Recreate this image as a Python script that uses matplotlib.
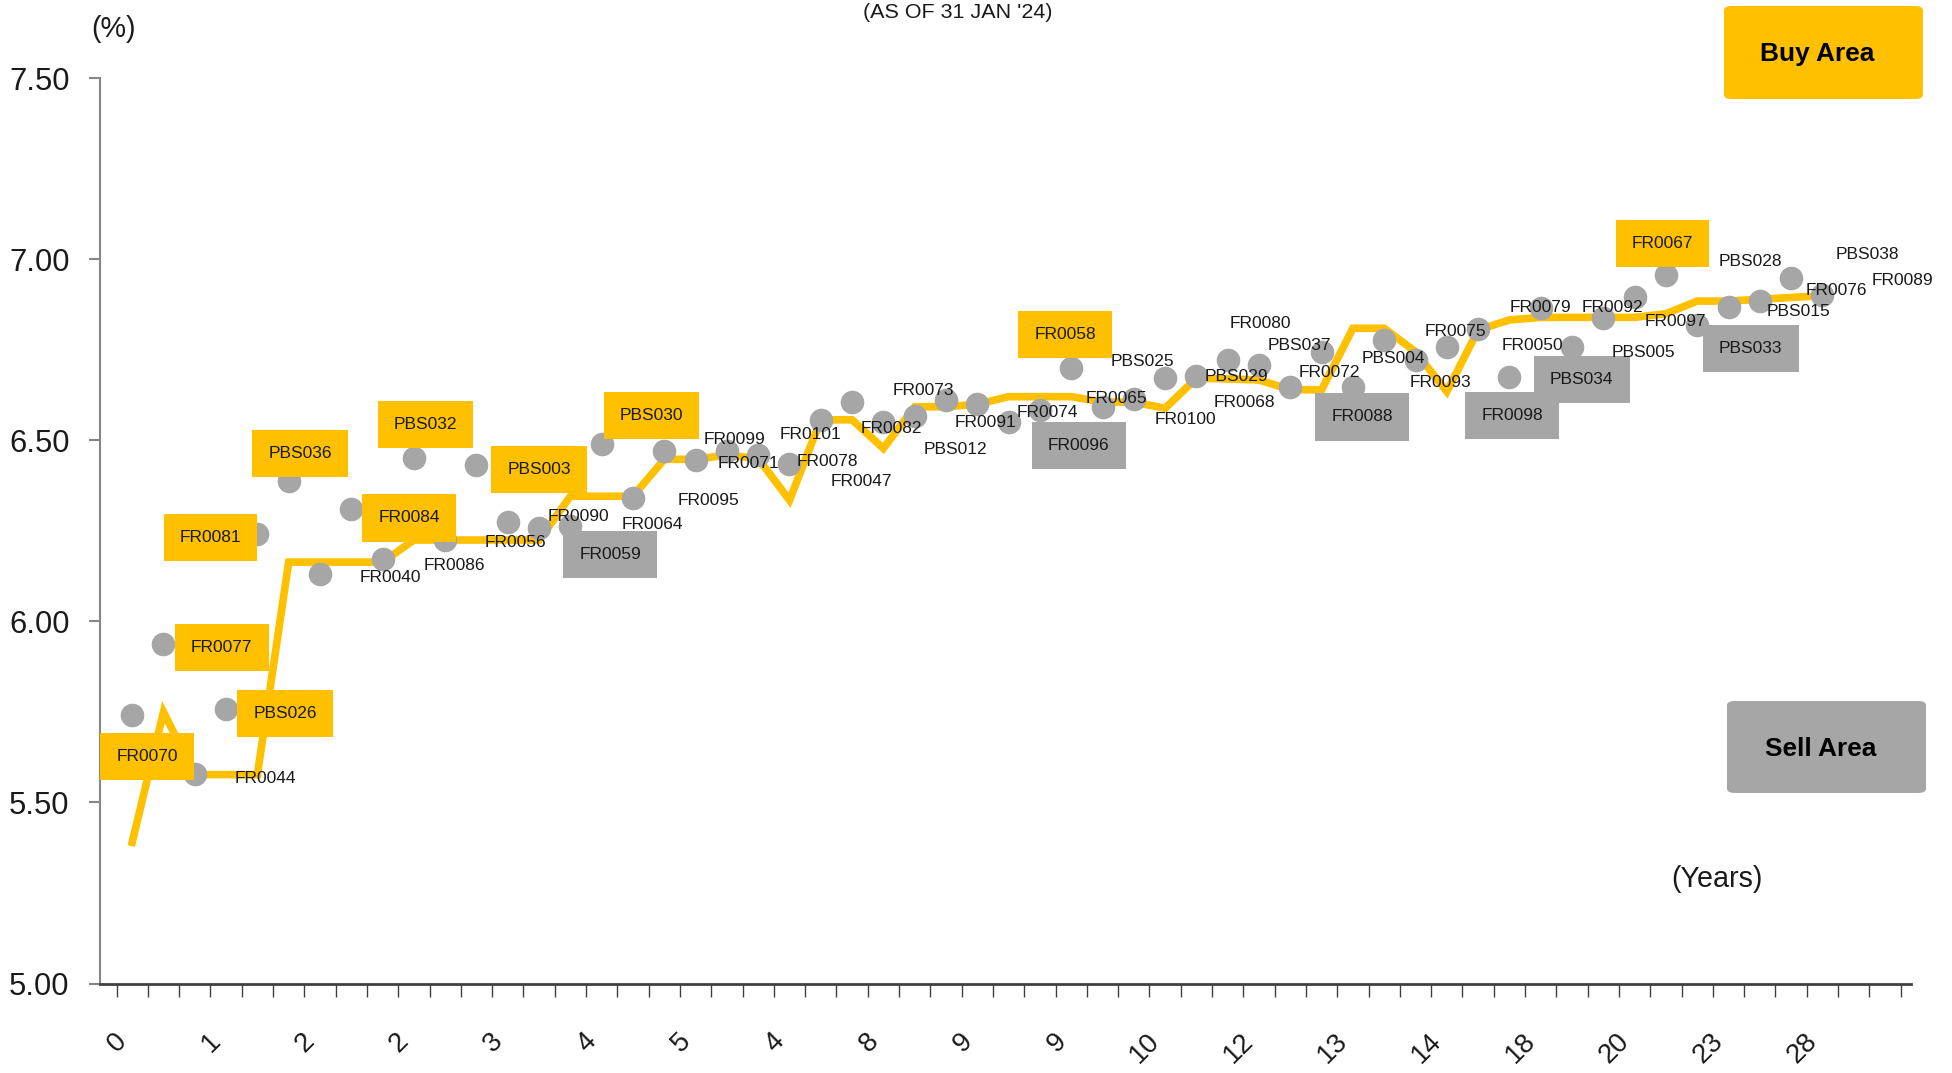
import numpy as np
import matplotlib
matplotlib.use('Agg')
import matplotlib.pyplot as plt
from matplotlib import font_manager
from matplotlib.patches import FancyBboxPatch

# narrow face if present, otherwise Arial-metric sans at a reduced size
_installed = {f.name for f in font_manager.fontManager.ttflist}
if 'Liberation Sans Narrow' in _installed:
    FAMILY, SCALE = 'Liberation Sans Narrow', 1.0
else:
    FAMILY, SCALE = 'Liberation Sans', 0.86
plt.rcParams['font.family'] = [FAMILY, 'DejaVu Sans']

# bond series, one per category (x axis), ordered by tenor
bonds = ['FR0070', 'FR0077', 'FR0044', 'PBS026', 'FR0081', 'PBS036', '', 'FR0084',
         'FR0040', 'PBS032', 'FR0086', 'PBS003', 'FR0056', 'FR0090', 'FR0059', 'PBS030',
         'FR0064', '', 'FR0095', 'FR0099', 'FR0071', 'FR0101', 'FR0078', 'FR0047',
         'FR0082', 'FR0073', 'PBS012', 'FR0091', 'FR0074', 'FR0096', 'FR0058', 'FR0065',
         'PBS025', 'FR0100', 'PBS029', 'FR0080', 'FR0068', 'PBS037', 'FR0072', 'FR0088',
         'PBS004', 'FR0093', 'FR0075', 'FR0050', 'FR0098', 'FR0079', 'PBS034', 'FR0092',
         'PBS005', 'FR0067', 'FR0097', 'PBS033', 'PBS028', 'PBS015', 'FR0076', 'PBS038',
         'FR0089']

# 'buy' = yellow box, 'sell' = grey box, '' = plain label
signal = ['buy', 'buy', '', 'buy', 'buy', 'buy', '', 'buy',
          '', 'buy', '', 'buy', '', '', 'sell', 'buy',
          '', '', '', '', '', '', '', '',
          '', '', '', '', '', 'sell', 'buy', '',
          '', '', '', '', '', '', '', 'sell',
          '', '', '', '', 'sell', '', 'sell', '',
          '', 'buy', '', 'sell', '', '', '', '',
          '']

# market yield (%) per bond
yields = [5.743, 5.939, 5.578, 5.758, 6.243, 6.388, 6.132, 6.310,
          6.172, 6.452, 6.225, 6.431, 6.275, 6.259, 6.263, 6.490,
          6.340, 6.470, 6.445, 6.470, 6.460, 6.435, 6.557, 6.607,
          6.552, 6.568, 6.612, 6.601, 6.552, 6.584, 6.699, 6.593,
          6.614, 6.672, 6.678, 6.722, 6.709, 6.649, 6.745, 6.649,
          6.778, 6.722, 6.759, 6.807, 6.676, 6.865, 6.759, 6.837,
          6.897, 6.957, 6.819, 6.870, 6.884, 6.948, 6.902, np.nan,
          np.nan]

# fitted yield curve (%)
curve = [5.390, 5.750, 5.577, 5.577, 5.577, 6.164, 6.164, 6.164,
         6.164, 6.225, 6.225, 6.225, 6.225, 6.225, 6.346, 6.346,
         6.346, 6.448, 6.448, 6.460, 6.450, 6.335, 6.557, 6.557,
         6.478, 6.593, 6.593, 6.600, 6.621, 6.621, 6.621, 6.606,
         6.606, 6.589, 6.672, 6.670, 6.667, 6.640, 6.640, 6.810,
         6.810, 6.745, 6.635, 6.805, 6.833, 6.840, 6.840, 6.840,
         6.840, 6.850, 6.885, 6.885, 6.890, 6.895, 6.900, np.nan,
         np.nan]

tenor_labels = ['0', '1', '2', '2', '3', '4', '5', '4', '8', '9', '9', '10',
                '12', '13', '14', '18', '20', '23', '28']

# label placement: (category shift, yield shift) from the dot
label_offsets = [(0.48, -0.117), (1.86, -0.011), (2.25, -0.011), (1.88, -0.012),
                 (-1.5, -0.012), (0.36, 0.077), (0, 0), (1.85, -0.024),
                 (0.25, -0.051), (0.37, 0.092), (0.28, -0.07), (2.0, -0.011),
                 (0.26, -0.058), (1.25, 0.031), (1.28, -0.077), (1.59, 0.078),
                 (0.63, -0.071), (0, 0), (0.41, -0.111), (0.25, 0.033),
                 (-0.32, -0.023), (0.67, 0.081), (0.22, -0.116), (0.29, -0.221),
                 (0.25, -0.018), (0.28, 0.069), (0.31, -0.137), (0.26, -0.05),
                 (1.25, 0.026), (1.24, -0.098), (-0.2, 0.093), (0.43, 0.023),
                 (0.26, 0.105), (0.65, -0.114), (1.28, 0.0), (1.03, 0.101),
                 (-0.48, -0.103), (0.3, 0.112), (0.25, -0.057), (0.29, -0.084),
                 (0.28, -0.052), (0.79, -0.061), (0.26, 0.043), (1.72, -0.046),
                 (0.09, -0.108), (0.0, 0.002), (0.31, -0.091), (0.3, 0.03),
                 (0.29, -0.154), (-0.11, 0.086), (-0.71, 0.01), (0.71, -0.116),
                 (-0.29, 0.11), (0.25, -0.091), (0.44, 0.013), (0.44, 0.115),
                 (0.55, 0.043)]

YELLOW = '#FFC000'
GREY = '#A6A6A6'
INK = '#1a1a1a'

cats = np.arange(1, len(bonds) + 1)
yields = np.array(yields, dtype=float)
curve = np.array(curve, dtype=float)

fig = plt.figure(figsize=(19.52, 10.73), dpi=100)
ax = fig.add_axes([0.0512, 0.0834, 0.9278, 0.8435])

ax.plot(cats, curve, color=YELLOW, lw=5.5, zorder=2, solid_joinstyle='miter')
ax.plot(cats, yields, 'o', color=GREY, ms=17, mec='none', zorder=3)

last_curve = curve[np.isfinite(curve)][-1]
box_pad = 'square,pad=%.2f' % (0.8 / SCALE)
for i, name in enumerate(bonds):
    if not name:
        continue
    base = yields[i] if np.isfinite(yields[i]) else last_curve
    dx, dy = label_offsets[i]
    kw = dict(ha='center', va='center', fontsize=14.5 * SCALE, color=INK, zorder=5)
    if signal[i] == 'buy':
        kw['bbox'] = dict(boxstyle=box_pad, fc=YELLOW, ec='none')
    elif signal[i] == 'sell':
        kw['bbox'] = dict(boxstyle=box_pad, fc=GREY, ec='none')
    ax.text(cats[i] + dx, base + dy, name, **kw)

ax.set_xlim(-0.03, 57.83)
ax.set_ylim(5.0, 7.5)

# boundary ticks, labels every third category
ax.set_xticks(np.arange(0.5, len(bonds) + 1, 1.0), minor=True)
ax.set_xticks(cats[::3][:len(tenor_labels)])
ax.set_xticklabels(tenor_labels, rotation=45, ha='right', va='top',
                   fontsize=23 * SCALE, color=INK)
ax.tick_params(axis='x', which='major', length=0, pad=32)
ax.tick_params(axis='x', which='minor', length=9.5, width=1, color='#404040', direction='out')

ax.set_yticks(np.arange(5.0, 7.51, 0.5))
ax.set_yticklabels([f'{v:.2f}' for v in np.arange(5.0, 7.51, 0.5)],
                   fontsize=26 * SCALE, color=INK)
ax.tick_params(axis='y', length=8, width=1.5, color='#868686', pad=14)

ax.spines['top'].set_visible(False)
ax.spines['right'].set_visible(False)
ax.spines['left'].set_color('#868686')
ax.spines['left'].set_linewidth(1.5)
ax.spines['bottom'].set_color('#404040')
ax.spines['bottom'].set_linewidth(2)

fig.text(0.0584, 0.973, '(%)', fontsize=24 * SCALE, ha='center', va='center', color=INK)
fig.text(0.8796, 0.1808, '(Years)', fontsize=24 * SCALE, ha='center', va='center', color=INK)
fig.text(0.4908, 0.9835, "(AS OF 31 JAN '24)", fontsize=18 * SCALE, ha='center',
         va='baseline', color=INK)

# buy / sell legend boxes
for (x0, y0, x1, y1), fc, txt, ty in [((0.8832, 0.9077, 0.9851, 0.9944), YELLOW, 'Buy Area', 0.9497),
                                        ((0.8847, 0.2610, 0.9867, 0.3467), GREY, 'Sell Area', 0.302)]:
    fig.patches.append(FancyBboxPatch((x0, y0), x1 - x0, y1 - y0,
                                      boxstyle='round,pad=0,rounding_size=0.004',
                                      transform=fig.transFigure, fc=fc, ec='none'))
    fig.text((x0 + x1) / 2 - 0.003, ty, txt, fontsize=22 * SCALE, fontweight='bold',
             ha='center', va='center', color='#000000')

fig.savefig('out.png', dpi=100)
